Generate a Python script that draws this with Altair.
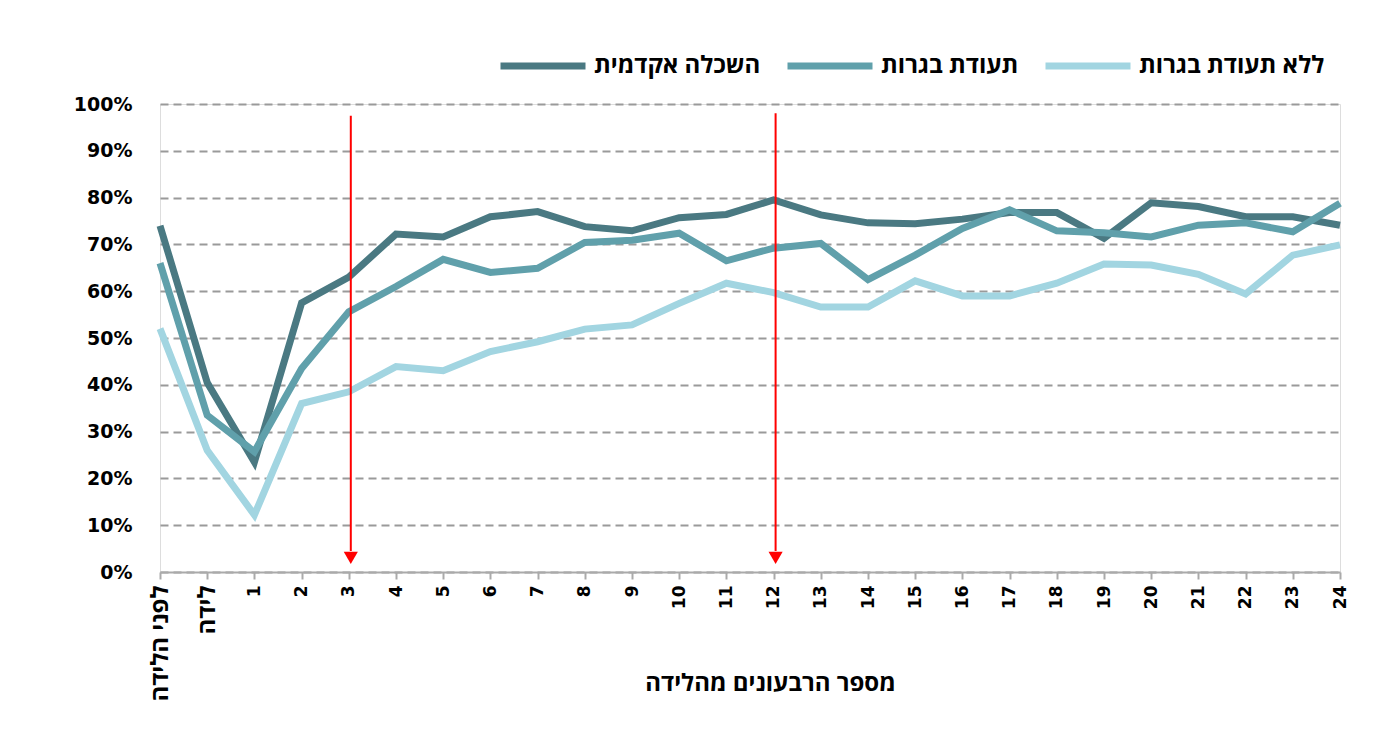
import altair as alt
import pandas as pd

categories = ["לפני הלידה", "לידה"] + [str(i) for i in range(1, 25)]

series_names = ["השכלה אקדמית", "תעודת בגרות", "ללא תעודת בגרות"]
series_colors = ["#4a7982", "#60a0ab", "#a2d5e1"]

academic = [74, 40.5, 23.5, 57.5, 63, 72.2, 71.6, 75.9, 77.0, 73.8, 72.9, 75.7, 76.4,
            79.5, 76.3, 74.6, 74.4, 75.4, 76.8, 76.8, 71.3, 78.9, 78.1, 75.9, 75.9, 74.1]
bagrut = [66, 33.5, 25.7, 43.5, 55.6, 61, 66.8, 64, 64.9, 70.4, 70.9, 72.4, 66.5,
          69.2, 70.2, 62.5, 67.7, 73.4, 77.4, 72.9, 72.5, 71.6, 74.1, 74.6, 72.7, 78.8]
no_bagrut = [52, 26, 12.2, 36, 38.5, 43.9, 43, 47.1, 49.2, 51.9, 52.8, 57.4, 61.7,
             59.7, 56.6, 56.6, 62.2, 59, 59, 61.7, 65.8, 65.6, 63.6, 59.4, 67.7, 69.9]

arrow_quarters = ["3", "12"]
arrow_top = [97.5, 98.0]
arrow_bottom = [4.5, 4.5]
arrow_head = [3.0, 3.0]

y_ticks = list(range(0, 101, 10))

FONT = "'DejaVu Sans', sans-serif"
FONT_HE = "'Open Sans', 'Liberation Sans', sans-serif"

rows = []
for name, vals in zip(series_names, [academic, bagrut, no_bagrut]):
    for i, (c, v) in enumerate(zip(categories, vals)):
        rows.append({"quarter": c, "value": v, "series": name, "ord": i})
df = pd.DataFrame(rows)

arrows = pd.DataFrame({"quarter": arrow_quarters, "top": arrow_top,
                       "bottom": arrow_bottom, "head": arrow_head})

he_test = "datum.value == 'לפני הלידה' || datum.value == 'לידה'"

x_enc = alt.X("quarter:N", sort=categories,
              scale=alt.Scale(type="point", padding=0, domain=categories),
              axis=alt.Axis(title="מספר הרבעונים מהלידה", labelAngle=270,
                            labelFontSize={"condition": {"test": he_test, "value": 24}, "value": 17},
                            labelFont={"condition": {"test": he_test, "value": FONT_HE}, "value": FONT},
                            labelFontWeight="bold", labelColor="#000",
                            labelPadding=6, domainColor="#aaaaaa", domainWidth=2,
                            tickColor="#aaaaaa", tickWidth=2, tickSize=7,
                            titleFont=FONT_HE,
                            titleFontSize=24, titleFontWeight="bold", titleColor="#000",
                            titleX=610, titleY=111, titleBaseline="middle",
                            titleAlign="center", grid=False))

y_scale = alt.Scale(domain=[0, 100], nice=False)

lines = alt.Chart(df).mark_line(strokeWidth=7, strokeJoin="miter").encode(
    x=x_enc,
    y=alt.Y("value:Q", scale=y_scale,
            axis=alt.Axis(title=None, values=y_ticks, labelExpr="datum.value + '%'",
                          labelFontSize=19, labelFontWeight="bold", labelColor="#000",
                          labelPadding=28, ticks=False, domain=False,
                          grid=True, gridColor="#9a9a9a", gridWidth=2,
                          gridDash=[8, 5])),
    color=alt.Color("series:N", scale=alt.Scale(domain=series_names, range=series_colors),
                    legend=alt.Legend(title=None, orient="none", direction="horizontal",
                                      legendX=337, legendY=-84, padding=0,
                                      symbolType="stroke", symbolSize=7225,
                                      symbolStrokeWidth=7, labelFontSize=24,
                                      labelFontWeight="bold", labelColor="#000",
                                      labelFont=FONT_HE, labelLimit=400,
                                      columnPadding=12, labelOffset=5)),
    order="ord:Q",
)

rules = alt.Chart(arrows).mark_rule(color="#ff0000", strokeWidth=2, xOffset=2).encode(
    x=alt.X("quarter:N", sort=categories),
    y=alt.Y("top:Q", scale=y_scale),
    y2="bottom:Q",
)

heads = alt.Chart(arrows).mark_point(shape="triangle-down", filled=True, color="#ff0000",
                                     size=200, opacity=1, xOffset=2).encode(
    x=alt.X("quarter:N", sort=categories),
    y=alt.Y("head:Q", scale=y_scale),
)

chart = alt.layer(lines, rules, heads).properties(
    width=1180, height=468,
    autosize=alt.AutoSizeParams(type="none"),
    padding={"left": 152, "top": 96, "right": 30, "bottom": 150},
    background="white",
).configure_view(stroke=None).configure(font=FONT)

chart.save("out.html", embed_options={"renderer": "svg", "actions": False})
